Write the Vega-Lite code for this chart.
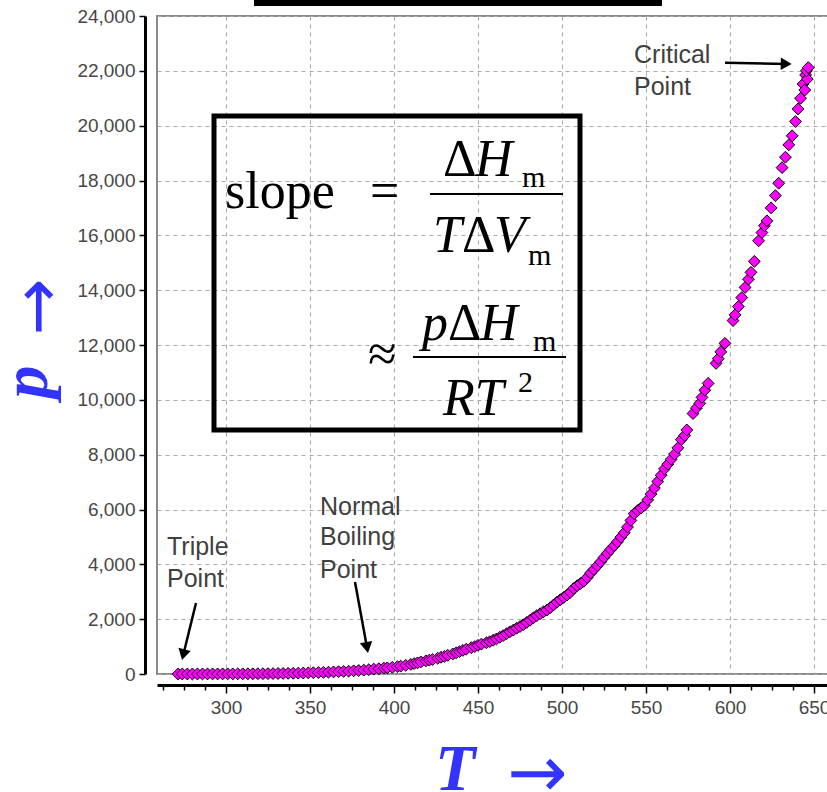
{
  "$schema": "https://vega.github.io/schema/vega-lite/v6.json",
  "autosize": "none",
  "padding": {"left": 157, "top": 16, "right": 0, "bottom": 118},
  "width": 672,
  "height": 658,
  "config": {
    "view": {"stroke": "#8a8a8a", "strokeWidth": 2},
    "axis": {
      "grid": true,
      "gridColor": "#a8a8a8",
      "gridDash": [4, 4],
      "gridWidth": 1,
      "domainColor": "#000",
      "domainWidth": 3,
      "tickColor": "#000",
      "tickWidth": 1.5,
      "labelFont": "Liberation Sans",
      "labelFontSize": 19,
      "labelColor": "#474747",
      "labelOverlap": false,
      "labelFlush": false,
      "title": null
    }
  },
  "datasets": {
    "pts": [
      {"T":271.5,"p":0.5},{"T":274,"p":0.7},{"T":277,"p":0.9},{"T":280,"p":1.0},{"T":283,"p":1.2},{"T":286,"p":1.5},{"T":289,"p":1.8},{"T":292,"p":2.2},{"T":295,"p":2.6},{"T":298,"p":3.2},
      {"T":301,"p":3.8},{"T":304,"p":4.5},{"T":307,"p":5.3},{"T":310,"p":6.2},{"T":313,"p":7.3},{"T":316,"p":8.5},{"T":319,"p":10},{"T":322,"p":11.6},{"T":325,"p":13.4},{"T":328,"p":15.5},
      {"T":331,"p":18},{"T":334,"p":21},{"T":337,"p":24},{"T":340,"p":27},{"T":343,"p":31},{"T":346,"p":35},{"T":349,"p":40},{"T":352,"p":46},{"T":355,"p":52},{"T":358,"p":59},
      {"T":361,"p":66},{"T":364,"p":75},{"T":367,"p":84},{"T":370,"p":93},{"T":373,"p":102},{"T":376,"p":115},{"T":379,"p":128},{"T":382,"p":142},{"T":385,"p":158},{"T":388,"p":175},
      {"T":391,"p":193},{"T":394,"p":212},{"T":396,"p":225},{"T":399,"p":245},{"T":402,"p":268},{"T":404,"p":285},{"T":407,"p":315},{"T":410,"p":350},{"T":412,"p":380},{"T":414,"p":405},
      {"T":416,"p":440},{"T":419,"p":480},{"T":421,"p":505},{"T":423,"p":530},{"T":426,"p":575},{"T":428,"p":610},{"T":430,"p":640},{"T":432,"p":680},{"T":435,"p":730},{"T":437,"p":770},
      {"T":439,"p":815},{"T":441,"p":860},{"T":443,"p":905},{"T":446,"p":960},{"T":448,"p":1000},{"T":450,"p":1045},{"T":452,"p":1090},{"T":455,"p":1140},{"T":457,"p":1180},{"T":459,"p":1230},
      {"T":461,"p":1280},{"T":463,"p":1340},{"T":465,"p":1400},{"T":467,"p":1470},{"T":469,"p":1540},{"T":471,"p":1600},{"T":473,"p":1670},{"T":475,"p":1730},{"T":477,"p":1800},{"T":479,"p":1880},
      {"T":481,"p":1960},{"T":483,"p":2050},{"T":485,"p":2130},{"T":487,"p":2200},{"T":489,"p":2270},{"T":491,"p":2330},{"T":493,"p":2420},{"T":495,"p":2520},{"T":497,"p":2620},{"T":499,"p":2710},
      {"T":501,"p":2790},{"T":503,"p":2880},{"T":505,"p":2980},{"T":507,"p":3120},{"T":509,"p":3220},{"T":511,"p":3300},{"T":513,"p":3380},{"T":515,"p":3520},{"T":517,"p":3680},{"T":519,"p":3810},
      {"T":521,"p":3950},{"T":523,"p":4090},{"T":525,"p":4250},{"T":527,"p":4400},{"T":529,"p":4540},{"T":531,"p":4680},{"T":533,"p":4820},{"T":535,"p":4990},{"T":537,"p":5150},{"T":539,"p":5360},
      {"T":541,"p":5600},{"T":543,"p":5850},{"T":545,"p":5960},{"T":547,"p":6050},{"T":549,"p":6150},{"T":551,"p":6350},{"T":553,"p":6560},{"T":555,"p":6780},{"T":557,"p":7020},{"T":559,"p":7250},
      {"T":561,"p":7480},{"T":563,"p":7650},{"T":565,"p":7830},{"T":567,"p":8020},{"T":569,"p":8250},{"T":571,"p":8550},{"T":573,"p":8700},{"T":574.3,"p":8900},{"T":578,"p":9500},{"T":580,"p":9700},
      {"T":582,"p":9870},{"T":583.3,"p":10090},{"T":585,"p":10350},{"T":587,"p":10600},{"T":591.7,"p":11330},{"T":593,"p":11500},{"T":594.5,"p":11750},{"T":597,"p":12060},{"T":601.8,"p":12890},{"T":603,"p":13100},
      {"T":605,"p":13400},{"T":607,"p":13730},{"T":609,"p":14100},{"T":611,"p":14400},{"T":612.5,"p":14650},{"T":614.5,"p":15050},{"T":617,"p":15800},{"T":619,"p":16100},{"T":620.5,"p":16350},{"T":622,"p":16530},
      {"T":624.5,"p":17000},{"T":627,"p":17450},{"T":629,"p":17900},{"T":631,"p":18470},{"T":633,"p":18850},{"T":635,"p":19300},{"T":637,"p":19630},{"T":639,"p":20150},{"T":640.5,"p":20610},{"T":642,"p":21000},
      {"T":643.5,"p":21520},{"T":645,"p":21850},{"T":644.5,"p":21300},{"T":646,"p":21700},{"T":645.5,"p":22000},{"T":646.6,"p":22120}
    ],
    "box": [{"T":292.86,"T2":510.71,"p":20352,"p2":8900}],
    "topbar": [{"T":316.67,"T2":559.52,"p":24583,"p2":24365}],
    "bars": [{"T":421.43,"T2":500.6,"p":17508},{"T":411.31,"T2":502.38,"p":11562}],
    "fu": [
      {"t":"slope","T":299.4,"p":16997},{"t":"=","T":385.71,"p":16997},
      {"t":"Δ","T":429.17,"p":18164},{"t":"Δ","T":440.48,"p":15392},
      {"t":"≈","T":384.52,"p":11052},{"t":"Δ","T":432.14,"p":12182}
    ],
    "fi": [
      {"t":"H","T":448.21,"p":18164},{"t":"T","T":423.21,"p":15392},{"t":"V","T":459.52,"p":15392},
      {"t":"p","T":416.67,"p":12182},{"t":"H","T":451.19,"p":12182},{"t":"RT","T":429.17,"p":9447}
    ],
    "fs": [
      {"t":"m","T":476.19,"p":17763},{"t":"m","T":479.76,"p":14918},{"t":"m","T":482.74,"p":11781},{"t":"2","T":473.81,"p":10286}
    ],
    "ann": [
      {"t":"Triple","T":264.88,"p":4340},{"t":"Point","T":264.88,"p":3173},
      {"t":"Normal","T":355.95,"p":5799},{"t":"Boiling","T":355.95,"p":4705},{"t":"Point","T":355.95,"p":3501},
      {"t":"Critical","T":542.86,"p":22286},{"t":"Point","T":542.86,"p":21118}
    ],
    "arr": [
      {"T":282.14,"p":2590,"T2":274.58,"p2":704},
      {"T":376.79,"p":3356,"T2":383.93,"p2":963},
      {"T":597.02,"p":22297,"T2":633.45,"p2":22253}
    ],
    "h1": [{"T":274.58,"p":704}],
    "h2": [{"T":383.93,"p":963}],
    "h3": [{"T":633.45,"p":22253}],
    "xt": [{"t":"T","T":424.4,"p":-4231}],
    "xa": [{"t":"→","T":485.42,"p":-3684}],
    "yt": [{"t":"p","T":193.45,"p":10650}],
    "ya": [{"t":"→","T":189.29,"p":13386}]
  },
  "encoding": {
    "x": {
      "field": "T", "type": "quantitative",
      "scale": {"domain": [258.93, 658.93], "nice": false, "zero": false},
      "axis": {
        "offset": 11,
        "values": [262.5,275,287.5,300,312.5,325,337.5,350,362.5,375,387.5,400,412.5,425,437.5,450,462.5,475,487.5,500,512.5,525,537.5,550,562.5,575,587.5,600,612.5,625,637.5,650],
        "labelExpr": "datum.value % 50 === 0 ? format(datum.value, 'd') : ''",
        "tickSize": {"condition": {"test": "datum.value % 50 === 0", "value": 8}, "value": 5},
        "gridOpacity": {"condition": {"test": "datum.value % 50 === 0", "value": 1}, "value": 0},
        "labelPadding": 5
      }
    },
    "y": {
      "field": "p", "type": "quantitative",
      "scale": {"domain": [0, 24000], "nice": false},
      "axis": {
        "offset": 12,
        "values": [0,2000,4000,6000,8000,10000,12000,14000,16000,18000,20000,22000,24000],
        "format": ",d",
        "tickSize": 6,
        "labelPadding": 4
      }
    }
  },
  "layer": [
    {
      "data": {"name": "pts"},
      "mark": {"type": "point", "shape": "diamond", "filled": true, "size": 140, "fill": "#ff00ff", "stroke": "#000", "strokeWidth": 1, "opacity": 1}
    },
    {
      "data": {"name": "box"},
      "mark": {"type": "rect", "filled": false, "stroke": "#000", "strokeWidth": 5},
      "encoding": {"x2": {"field": "T2"}, "y2": {"field": "p2"}}
    },
    {
      "data": {"name": "topbar"},
      "mark": {"type": "rect", "color": "#000"},
      "encoding": {"x2": {"field": "T2"}, "y2": {"field": "p2"}}
    },
    {
      "data": {"name": "bars"},
      "mark": {"type": "rule", "color": "#000", "strokeWidth": 2},
      "encoding": {"x2": {"field": "T2"}}
    },
    {
      "data": {"name": "fu"},
      "mark": {"type": "text", "font": "Liberation Serif", "fontSize": 52, "align": "left", "baseline": "alphabetic", "color": "#000"},
      "encoding": {"text": {"field": "t"}}
    },
    {
      "data": {"name": "fi"},
      "mark": {"type": "text", "font": "Liberation Serif", "fontSize": 52, "fontStyle": "italic", "align": "left", "baseline": "alphabetic", "color": "#000"},
      "encoding": {"text": {"field": "t"}}
    },
    {
      "data": {"name": "fs"},
      "mark": {"type": "text", "font": "Liberation Serif", "fontSize": 30, "align": "left", "baseline": "alphabetic", "color": "#000"},
      "encoding": {"text": {"field": "t"}}
    },
    {
      "data": {"name": "ann"},
      "mark": {"type": "text", "font": "Liberation Sans", "fontSize": 25, "align": "left", "baseline": "alphabetic", "color": "#404040"},
      "encoding": {"text": {"field": "t"}}
    },
    {
      "data": {"name": "arr"},
      "mark": {"type": "rule", "color": "#000", "strokeWidth": 2.5},
      "encoding": {"x2": {"field": "T2"}, "y2": {"field": "p2"}}
    },
    {
      "data": {"name": "h1"},
      "mark": {"type": "point", "shape": "triangle-up", "filled": true, "size": 160, "color": "#000", "opacity": 1, "angle": 193.8}
    },
    {
      "data": {"name": "h2"},
      "mark": {"type": "point", "shape": "triangle-up", "filled": true, "size": 160, "color": "#000", "opacity": 1, "angle": 169.6}
    },
    {
      "data": {"name": "h3"},
      "mark": {"type": "point", "shape": "triangle-up", "filled": true, "size": 160, "color": "#000", "opacity": 1, "angle": 91.1}
    },
    {
      "data": {"name": "xt"},
      "mark": {"type": "text", "font": "Liberation Serif", "fontSize": 66, "fontStyle": "italic", "fontWeight": "bold", "align": "left", "baseline": "alphabetic", "color": "#3333ff"},
      "encoding": {"text": {"field": "t"}}
    },
    {
      "data": {"name": "xa"},
      "mark": {"type": "text", "font": "DejaVu Sans", "fontSize": 72, "align": "center", "baseline": "middle", "color": "#3333ff"},
      "encoding": {"text": {"field": "t"}}
    },
    {
      "data": {"name": "yt"},
      "mark": {"type": "text", "font": "Liberation Serif", "fontSize": 66, "fontStyle": "italic", "fontWeight": "bold", "align": "center", "baseline": "alphabetic", "angle": -90, "color": "#3333ff"},
      "encoding": {"text": {"field": "t"}}
    },
    {
      "data": {"name": "ya"},
      "mark": {"type": "text", "font": "DejaVu Sans", "fontSize": 68, "align": "center", "baseline": "middle", "angle": -90, "color": "#3333ff"},
      "encoding": {"text": {"field": "t"}}
    }
  ]
}
